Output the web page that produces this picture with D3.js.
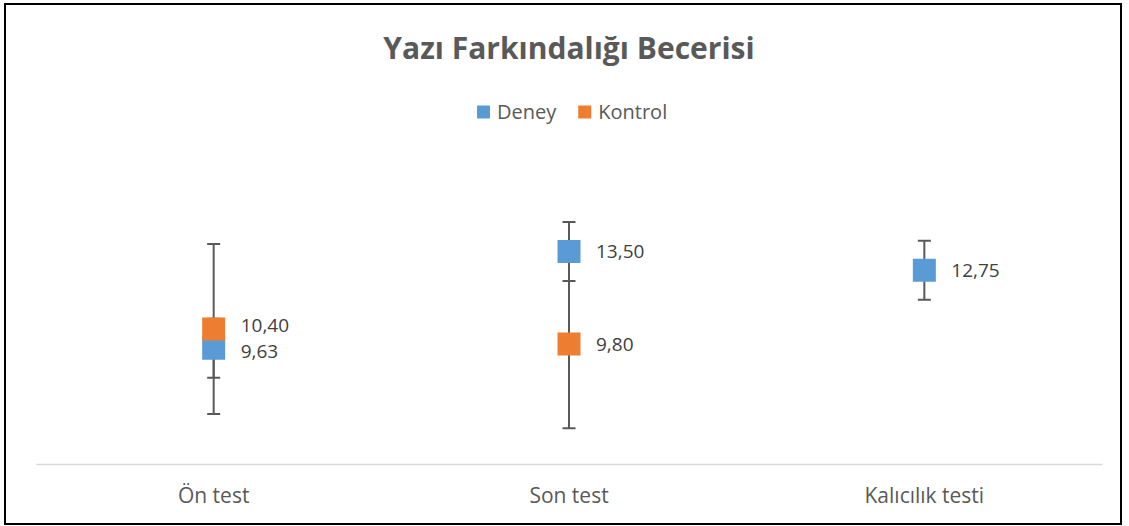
<!DOCTYPE html>
<html>
<head>
<meta charset="utf-8">
<script src="https://cdn.jsdelivr.net/npm/d3@7"></script>
<style>
  body { margin: 0; background: #fff; }
  text { font-family: "Open Sans", sans-serif; }
</style>
</head>
<body>
<div id="chart"></div>
<script>
/** Chart data. */
const TITLE = "Yazı Farkındalığı Becerisi";
const CATEGORIES = ["Ön test", "Son test", "Kalıcılık testi"];
const SERIES = ["Deney", "Kontrol"];
const DENEY = [9.63, 13.50, 12.75];
const DENEY_ERR = [1.18, 1.18, 1.18];
const KONTROL = [10.40, 9.80, null];
const KONTROL_ERR = [3.40, 3.37, null];
const Y_DOMAIN = [5, 15];

const COLORS = {Deney: "#5B9BD5", Kontrol: "#ED7D31"};

/** Layout. */
const WIDTH = 1129;
const HEIGHT = 526;
const PLOT = {left: 36, right: 1102, top: 214, bottom: 464};
const MARKER = 23;
const CAP = 13;
const LABEL_GAP = 26; // min vertical distance between labels of one category

const fmt = v => v.toFixed(2).replace(".", ",");

const x = d3.scaleBand()
    .domain(CATEGORIES)
    .range([PLOT.left, PLOT.right]);
const y = d3.scaleLinear()
    .domain(Y_DOMAIN)
    .range([PLOT.bottom, PLOT.top]);

const svg = d3.select("#chart").append("svg")
    .attr("width", WIDTH)
    .attr("height", HEIGHT);

// frame
svg.append("rect")
    .attr("x", 5).attr("y", 4)
    .attr("width", 1116).attr("height", 520)
    .attr("fill", "#fff")
    .attr("stroke", "#000")
    .attr("stroke-width", 2);

// title
svg.append("text")
    .attr("x", 569).attr("y", 59)
    .attr("text-anchor", "middle")
    .attr("font-size", 30)
    .attr("font-weight", "bold")
    .attr("fill", "#595959")
    .text(TITLE);

// legend
const legend = svg.append("g").attr("transform", "translate(477,112)");
let lx = 0;
SERIES.forEach(name => {
    const item = legend.append("g").attr("transform", `translate(${lx},0)`);
    item.append("rect")
        .attr("x", 0).attr("y", -6.5)
        .attr("width", 13).attr("height", 13)
        .attr("fill", COLORS[name]);
    const t = item.append("text")
        .attr("x", 20).attr("dy", "0.35em")
        .attr("font-size", 20)
        .attr("fill", "#595959")
        .text(name);
    lx += 20 + t.node().getComputedTextLength() + 22;
});

// category axis
const xAxis = d3.axisBottom(x).tickSize(0).tickPadding(24);
const axisG = svg.append("g")
    .attr("transform", `translate(0,${PLOT.bottom})`)
    .call(xAxis);
axisG.select(".domain")
    .attr("stroke", "#d9d9d9")
    .attr("stroke-width", 1.5);
axisG.selectAll("text")
    .attr("font-size", 21)
    .attr("fill", "#595959")
    .style("font-family", "'Open Sans', sans-serif");

const cx = c => x(c) + x.bandwidth() / 2;

function rows(values, errs, name) {
    return CATEGORIES.map((c, i) => ({c, v: values[i], e: errs[i], name}))
        .filter(d => d.v !== null);
}
const deney = rows(DENEY, DENEY_ERR, "Deney");
const kontrol = rows(KONTROL, KONTROL_ERR, "Kontrol");
const all = deney.concat(kontrol);

// error bars under the markers
const err = svg.append("g")
    .attr("stroke", "#595959")
    .attr("stroke-width", 2);
all.forEach(d => {
    const g = err.append("g");
    g.append("line")
        .attr("x1", cx(d.c)).attr("x2", cx(d.c))
        .attr("y1", y(d.v - d.e)).attr("y2", y(d.v + d.e));
    [d.v - d.e, d.v + d.e].forEach(v => {
        g.append("line")
            .attr("x1", cx(d.c) - CAP / 2).attr("x2", cx(d.c) + CAP / 2)
            .attr("y1", y(v)).attr("y2", y(v));
    });
});

// markers, Deney first so Kontrol sits on top
[deney, kontrol].forEach(series => {
    svg.append("g").selectAll("rect")
        .data(series)
        .join("rect")
        .attr("x", d => cx(d.c) - MARKER / 2)
        .attr("y", d => y(d.v) - MARKER / 2)
        .attr("width", MARKER).attr("height", MARKER)
        .attr("fill", d => COLORS[d.name]);
});

// labels: push apart the ones that sit too close in one category
all.forEach(d => { d.ly = y(d.v); });
d3.group(all, d => d.c).forEach(list => {
    if (list.length < 2) return;
    list.sort((a, b) => a.ly - b.ly);
    const [a, b] = list;
    const gap = b.ly - a.ly;
    if (gap < LABEL_GAP) {
        a.ly -= (LABEL_GAP - gap) / 2;
        b.ly += (LABEL_GAP - gap) / 2;
    }
});
svg.append("g").selectAll("text")
    .data(all)
    .join("text")
    .attr("x", d => cx(d.c) + 27)
    .attr("y", d => d.ly)
    .attr("dy", "0.36em")
    .attr("font-size", 19)
    .attr("fill", "#404040")
    .text(d => fmt(d.v));
</script>
</body>
</html>
